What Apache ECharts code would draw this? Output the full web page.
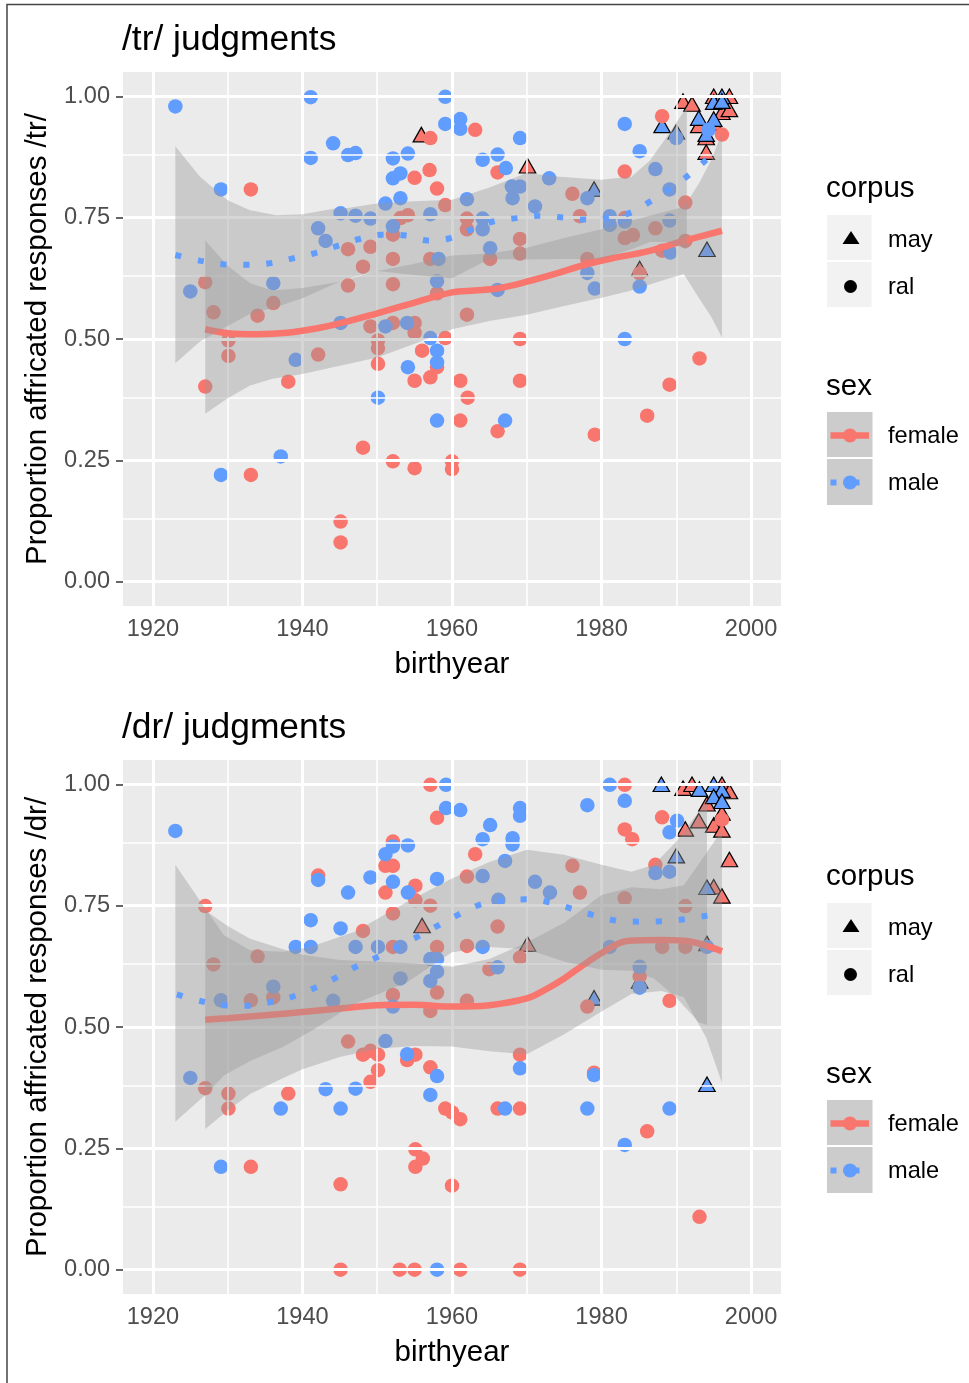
<!DOCTYPE html>
<html>
<head>
<meta charset="utf-8">
<script src="https://cdn.jsdelivr.net/npm/echarts@6/dist/echarts.min.js"></script>
<style>
html,body{margin:0;padding:0;background:#ffffff;}
#chart{width:969px;height:1383px;}
</style>
</head>
<body>
<div id="chart"></div>
<script>
// ---------- axis breaks ----------
const xTicks = [1920, 1940, 1960, 1980, 2000];
const xMinor = [1930, 1950, 1970, 1990];
const yTicks = [0, 0.25, 0.5, 0.75, 1];
const yMinor = [0.125, 0.375, 0.625, 0.875];

// ---------- /tr/ panel: points [birthyear, proportion] ----------
const trFemaleRal = [
 [1927.0,0.617],[1928.1,0.555],[1930.1,0.497],[1930.1,0.465],[1927.0,0.402],[1933.1,0.808],[1933.1,0.220],
 [1934.0,0.548],[1936.1,0.574],[1938.1,0.412],[1942.1,0.468],[1945.1,0.124],[1945.1,0.081],[1946.1,0.685],
 [1946.1,0.610],[1948.1,0.649],[1948.1,0.276],[1949.1,0.690],[1949.1,0.526],[1950.1,0.497],[1950.1,0.481],
 [1950.1,0.449],[1952.1,0.715],[1952.1,0.665],[1952.1,0.613],[1952.1,0.533],[1952.1,0.248],[1953.1,0.749],
 [1954.1,0.755],[1955.0,0.832],[1955.0,0.533],[1955.0,0.513],[1955.0,0.414],[1955.0,0.234],[1956.0,0.476],
 [1957.1,0.914],[1957.0,0.848],[1957.1,0.665],[1957.1,0.421],[1958.0,0.810],[1958.0,0.594],[1958.0,0.442],
 [1959.1,0.776],[1959.1,0.502],[1960.0,0.248],[1960.0,0.232],[1961.1,0.414],[1961.1,0.332],[1962.0,0.748],
 [1962.0,0.726],[1962.0,0.550],[1962.1,0.379],[1963.1,0.931],[1965.1,0.665],[1966.1,0.843],[1966.1,0.310],
 [1969.1,0.706],[1969.1,0.676],[1969.1,0.500],[1969.1,0.414],[1976.1,0.799],[1977.1,0.753],[1978.1,0.665],
 [1979.1,0.303],[1983.1,0.845],[1983.1,0.749],[1983.1,0.708],[1984.2,0.714],[1985.1,0.635],[1986.1,0.342],
 [1987.2,0.728],[1988.1,0.959],[1988.1,0.682],[1989.1,0.406],[1991.2,0.781],[1991.2,0.702],[1993.1,0.460],
 [1996.1,0.921]
];
const trMaleRal = [
 [1923.0,0.979],[1925.0,0.598],[1929.1,0.808],[1929.1,0.220],[1936.1,0.615],[1937.1,0.258],[1939.1,0.457],
 [1941.1,0.998],[1941.1,0.873],[1942.1,0.728],[1943.1,0.702],[1944.1,0.903],[1945.1,0.759],[1945.1,0.533],
 [1946.1,0.879],[1947.1,0.883],[1947.1,0.754],[1949.1,0.748],[1950.1,0.379],[1951.1,0.779],[1951.1,0.526],
 [1952.1,0.872],[1952.1,0.831],[1952.1,0.732],[1953.1,0.841],[1953.1,0.790],[1954.1,0.882],[1954.0,0.533],
 [1954.1,0.442],[1957.1,0.757],[1957.1,0.502],[1958.2,0.665],[1958.0,0.619],[1958.0,0.476],[1958.0,0.452],
 [1958.0,0.332],[1959.1,0.999],[1959.1,0.943],[1961.1,0.953],[1961.1,0.933],[1962.0,0.788],[1964.1,0.869],
 [1964.1,0.748],[1964.1,0.726],[1965.1,0.687],[1966.1,0.880],[1966.1,0.601],[1967.2,0.852],[1967.1,0.332],
 [1968.0,0.814],[1968.1,0.790],[1969.1,0.914],[1969.1,0.814],[1971.1,0.773],[1973.0,0.831],[1978.1,0.790],
 [1978.1,0.636],[1979.1,0.604],[1981.1,0.753],[1981.1,0.735],[1983.1,0.943],[1983.1,0.742],[1983.1,0.500],
 [1985.1,0.887],[1985.1,0.608],[1987.2,0.850],[1989.1,0.808],[1989.1,0.744],[1989.2,0.678],[1990.0,0.914],
 [1994.3,0.931]
];
const trFemaleMay = [
 [1955.9,0.921],[1970.1,0.857],[1985.1,0.645],[1990.9,0.990],[1992.1,0.984],[1993.0,0.940],[1994.0,0.915],
 [1994.0,0.885],[1995.0,1.000],[1997.1,1.000],[1996.1,0.967],[1997.1,0.973],[1995.0,0.945]
];
const trMaleMay = [
 [1979.0,0.809],[1988.1,0.940],[1990.0,0.927],[1993.0,0.955],[1994.0,0.922],[1994.1,0.685],[1995.0,0.953],
 [1996.1,1.000],[1995.0,0.988],[1996.1,0.990]
];
// smoother fits (loess) and 95% bands [year, lower, upper]
const trFemaleFit = [
 [1927,0.520],[1930,0.512],[1934,0.510],[1938,0.513],[1942,0.522],[1945,0.532],[1950,0.553],[1955,0.575],
 [1960,0.596],[1963,0.600],[1966,0.604],[1970,0.618],[1974,0.635],[1978,0.654],[1982,0.668],[1986,0.680],
 [1991,0.702],[1996.1,0.723]
];
const trMaleFit = [
 [1923,0.673],[1926.4,0.661],[1929.4,0.654],[1932.6,0.653],[1935.6,0.656],[1938.7,0.666],[1941.7,0.677],
 [1944.7,0.692],[1947.6,0.706],[1950.7,0.715],[1953.8,0.713],[1956.7,0.703],[1959.6,0.707],[1962.5,0.725],
 [1965.5,0.742],[1968.6,0.749],[1971.7,0.754],[1974.9,0.750],[1977.8,0.746],[1981,0.750],[1984,0.761],
 [1986.7,0.785],[1989,0.808],[1991.7,0.838],[1994,0.869],[1995.5,0.890]
];
const trFemaleBand = [
 [1927,0.346,0.703],[1930,0.378,0.651],[1933,0.404,0.615],[1936,0.418,0.600],[1940,0.428,0.605],
 [1945,0.445,0.618],[1950,0.462,0.640],[1955,0.490,0.655],[1960,0.520,0.672],[1965,0.537,0.676],
 [1970,0.550,0.688],[1975,0.568,0.708],[1980,0.585,0.726],[1984,0.600,0.744],[1988,0.620,0.760],
 [1991,0.634,0.772],[1993,0.585,0.820],[1994.7,0.545,0.870],[1996.1,0.503,0.925]
];
const trMaleBand = [
 [1923,0.450,0.897],[1926.3,0.495,0.834],[1930,0.527,0.786],[1933,0.552,0.765],[1936.5,0.566,0.755],
 [1940,0.584,0.757],[1944,0.612,0.768],[1946,0.624,0.770],[1950,0.640,0.779],[1955,0.632,0.784],
 [1960,0.625,0.787],[1965,0.665,0.812],[1970,0.664,0.842],[1974.4,0.665,0.834],[1980,0.665,0.828],
 [1984,0.685,0.834],[1986.5,0.700,0.868],[1988.7,0.700,0.916],[1991.4,0.685,0.978]
];

// ---------- /dr/ panel ----------
const drFemaleRal = [
 [1927.0,0.749],[1928.1,0.629],[1930.1,0.363],[1930.1,0.332],[1927.0,0.374],[1933.1,0.555],[1933.1,0.212],
 [1934.0,0.645],[1936.1,0.561],[1938.1,0.363],[1942.1,0.812],[1945.1,0.176],[1945.1,0.000],[1946.1,0.470],
 [1948.1,0.698],[1948.1,0.443],[1949.1,0.451],[1949.1,0.387],[1950.1,0.443],[1950.1,0.411],[1951.1,0.832],
 [1951.1,0.777],[1952.1,0.882],[1952.1,0.832],[1952.1,0.734],[1952.1,0.665],[1952.1,0.566],[1953.0,0.000],
 [1954.0,0.432],[1955.1,0.791],[1955.1,0.761],[1955.1,0.443],[1955.1,0.248],[1955.1,0.212],[1955.0,0.000],
 [1956.1,0.229],[1957.1,0.999],[1957.1,0.750],[1957.1,0.533],[1957.1,0.417],[1958.0,0.931],[1958.0,0.665],
 [1958.0,0.571],[1959.1,0.332],[1960.0,0.324],[1960.0,0.173],[1961.1,0.310],[1961.1,0.000],[1962.0,0.810],
 [1962.0,0.667],[1962.0,0.554],[1963.1,0.856],[1965.0,0.619],[1966.1,0.707],[1966.1,0.332],[1969.1,0.643],
 [1969.1,0.443],[1969.1,0.332],[1969.1,0.000],[1976.1,0.832],[1977.1,0.777],[1978.1,0.542],[1979.0,0.406],
 [1983.1,0.999],[1983.1,0.907],[1983.1,0.765],[1984.1,0.887],[1985.1,0.604],[1986.1,0.285],[1987.2,0.834],
 [1988.1,0.932],[1988.1,0.665],[1989.1,0.554],[1991.2,0.749],[1991.2,0.665],[1993.1,0.109],[1996.1,0.927]
];
const drMaleRal = [
 [1923.0,0.904],[1925.0,0.395],[1929.1,0.555],[1929.1,0.212],[1936.1,0.583],[1937.1,0.332],[1939.1,0.665],
 [1941.1,0.720],[1941.1,0.665],[1942.1,0.803],[1943.1,0.372],[1944.1,0.554],[1945.1,0.703],[1945.1,0.332],
 [1946.1,0.777],[1947.1,0.665],[1947.1,0.373],[1949.1,0.808],[1950.1,0.665],[1951.1,0.856],[1951.1,0.471],
 [1952.1,0.872],[1952.1,0.799],[1952.1,0.542],[1953.1,0.665],[1953.1,0.600],[1954.1,0.874],[1954.1,0.777],
 [1954.0,0.444],[1957.1,0.640],[1957.1,0.595],[1957.1,0.360],[1958.0,0.805],[1958.0,0.640],[1958.0,0.614],
 [1958.0,0.399],[1958.0,0.000],[1959.2,0.999],[1959.2,0.951],[1961.1,0.947],[1964.1,0.887],[1964.1,0.811],
 [1964.1,0.665],[1965.1,0.916],[1966.2,0.762],[1966.1,0.623],[1967.1,0.842],[1967.1,0.332],[1968.1,0.889],
 [1968.1,0.876],[1969.1,0.951],[1969.1,0.935],[1969.1,0.415],[1971.1,0.799],[1973.1,0.777],[1978.1,0.957],
 [1978.1,0.332],[1979.0,0.401],[1981.1,0.999],[1981.1,0.665],[1983.1,0.966],[1983.1,0.257],[1985.1,0.624],
 [1985.1,0.581],[1987.2,0.817],[1989.1,0.901],[1989.1,0.820],[1989.1,0.332],[1990.1,0.925],[1994.1,0.665]
];
const drFemaleMay = [
 [1956.0,0.709],[1970.1,0.671],[1985.1,0.595],[1990.9,0.992],[1992.1,1.000],[1994.1,0.960],[1993.0,0.925],
 [1991.2,0.908],[1995.0,0.916],[1996.1,0.941],[1996.1,0.906],[1996.1,1.000],[1997.1,0.985],[1997.1,0.845],
 [1994.1,0.672],[1995.0,0.789],[1996.1,0.770]
];
const drMaleMay = [
 [1979.0,0.560],[1988.0,1.000],[1990.0,0.853],[1993.1,0.990],[1995.0,1.000],[1996.1,0.988],[1995.0,0.975],
 [1996.1,0.965],[1994.1,0.788],[1994.1,0.382]
];
const drFemaleFit = [
 [1927,0.515],[1930,0.518],[1935,0.524],[1940,0.531],[1945,0.538],[1950,0.545],[1955,0.546],[1960,0.542],
 [1965,0.545],[1970,0.559],[1972.5,0.577],[1975,0.600],[1977.5,0.627],[1980,0.652],[1983.4,0.677],
 [1988.3,0.679],[1991.8,0.676],[1996.1,0.656]
];
const drMaleFit = [
 [1923.2,0.567],[1926.5,0.553],[1929.4,0.545],[1932.5,0.544],[1935.6,0.551],[1938.6,0.562],[1941.4,0.579],
 [1944.3,0.600],[1947,0.623],[1949.9,0.643],[1952.7,0.665],[1955.4,0.686],[1958,0.708],[1960.8,0.731],
 [1963.6,0.751],[1966.7,0.760],[1969.8,0.763],[1972.7,0.758],[1975.9,0.744],[1978.8,0.731],[1981.7,0.720],
 [1985,0.717],[1987.9,0.718],[1991.2,0.722],[1994,0.729],[1995.5,0.733]
];
const drFemaleBand = [
 [1927,0.290,0.740],[1930,0.328,0.708],[1933,0.362,0.682],[1937,0.392,0.662],[1940,0.413,0.649],
 [1945,0.438,0.638],[1950,0.455,0.635],[1955,0.461,0.631],[1960,0.460,0.624],[1965,0.450,0.640],
 [1970,0.444,0.674],[1975,0.485,0.715],[1980,0.532,0.772],[1984,0.568,0.788],[1988,0.574,0.784],
 [1991,0.562,0.792],[1994,0.478,0.858],[1996.1,0.385,0.905]
];
const drMaleBand = [
 [1923,0.305,0.834],[1927,0.360,0.744],[1929.5,0.400,0.689],[1933,0.430,0.658],[1937.5,0.460,0.655],
 [1941,0.490,0.665],[1947,0.548,0.696],[1954,0.592,0.758],[1960,0.654,0.806],[1965,0.665,0.840],
 [1970,0.660,0.865],[1975,0.635,0.855],[1980,0.618,0.834],[1984,0.616,0.820],[1987,0.600,0.834],
 [1990,0.560,0.882],[1993,0.510,0.944],[1994.1,0.504,0.964]
];

// ---------- styling ----------
const RED = '#F8766D', BLUE = '#619CFF';
const FONT = '"Liberation Sans", Arial, Helvetica, sans-serif';
const PANEL_TOP = [72, 760];

const chart = echarts.init(document.getElementById('chart'), null, {renderer: 'canvas'});

function gridLineSeries(gi) {
  const md = [];
  xTicks.forEach(v => md.push({xAxis: v, lineStyle: {width: 3}}));
  xMinor.forEach(v => md.push({xAxis: v, lineStyle: {width: 1.6}}));
  yTicks.forEach(v => md.push({yAxis: v, lineStyle: {width: 3}}));
  yMinor.forEach(v => md.push({yAxis: v, lineStyle: {width: 1.6}}));
  return {
    type: 'line', xAxisIndex: gi, yAxisIndex: gi, z: 1, silent: true,
    data: [], symbol: 'none',
    markLine: {silent: true, symbol: ['none', 'none'], label: {show: false}, animation: false,
      lineStyle: {color: '#ffffff', type: 'solid'}, emphasis: {disabled: true}, data: md}
  };
}
function scatter(gi, data, color, tri) {
  return {
    type: 'scatter', xAxisIndex: gi, yAxisIndex: gi, z: tri ? 2 : 3, data: data,
    symbol: tri ? 'triangle' : 'circle', symbolSize: tri ? [16.5, 14.5] : 14.5,
    itemStyle: tri ? {color: color, borderColor: '#000', borderWidth: 1.2, opacity: 1}
                   : {color: color, opacity: 1},
    emphasis: {disabled: true}, silent: true
  };
}
function ribbon(gi, band, z) {
  return {
    type: 'custom', xAxisIndex: gi, yAxisIndex: gi, z: z, silent: true, clip: true,
    data: [[band[0][0], band[0][1]]], encode: {x: 0, y: 1},
    renderItem: function (params, api) {
      if (params.dataIndex !== 0) return null;
      const up = band.map(d => api.coord([d[0], d[2]]));
      const lo = band.slice().reverse().map(d => api.coord([d[0], d[1]]));
      return {type: 'polygon', shape: {points: up.concat(lo)},
        style: {fill: 'rgba(153,153,153,0.4)', stroke: null}};
    }
  };
}
function fitLine(gi, data, color, dotted, z) {
  return {
    type: 'line', xAxisIndex: gi, yAxisIndex: gi, z: z, data: data, smooth: 0.35,
    symbol: 'none', silent: true,
    lineStyle: {color: color, width: dotted ? 6 : 6.5, type: dotted ? [6, 17] : 'solid', cap: 'butt'}
  };
}

function panel(gi, fRal, mRal, fMay, mMay, fFit, mFit, fBand, mBand) {
  return [
    gridLineSeries(gi),
    scatter(gi, fMay, RED, true), scatter(gi, mMay, BLUE, true),
    scatter(gi, fRal, RED, false), scatter(gi, mRal, BLUE, false),
    ribbon(gi, fBand, 5), fitLine(gi, fFit, RED, false, 6),
    ribbon(gi, mBand, 7), fitLine(gi, mFit, BLUE, true, 8)
  ];
}

function xAxis(gi) {
  return {
    type: 'value', gridIndex: gi, min: 1916, max: 2004,
    axisLine: {show: false}, splitLine: {show: false},
    axisTick: {show: true, customValues: xTicks, length: 7, lineStyle: {color: '#333333', width: 1.5}},
    axisLabel: {customValues: xTicks, formatter: v => String(v), fontSize: 23.6, color: '#4D4D4D',
      fontFamily: FONT, margin: 11},
    name: 'birthyear', nameLocation: 'middle', nameGap: 44, nameMoveOverlap: false,
    nameTextStyle: {fontSize: 29.5, color: '#000', fontFamily: FONT}
  };
}
function yAxis(gi, title) {
  return {
    type: 'value', gridIndex: gi, min: -0.05, max: 1.05,
    axisLine: {show: false}, splitLine: {show: false},
    axisTick: {show: true, customValues: yTicks, length: 7, lineStyle: {color: '#333333', width: 1.5}},
    axisLabel: {customValues: yTicks, formatter: v => v.toFixed(2), fontSize: 23.6, color: '#4D4D4D',
      fontFamily: FONT, margin: 13},
    name: title, nameLocation: 'middle', nameGap: 70, nameRotate: 90, nameMoveOverlap: false,
    nameTextStyle: {fontSize: 29.5, color: '#000', fontFamily: FONT}
  };
}

function legend(dy) {
  const t = (x, y, s, size) => ({type: 'text', silent: true, z: 10,
    style: {text: s, x: x, y: y + dy, fill: '#000', font: size + 'px ' + FONT, align: 'left', verticalAlign: 'middle'}});
  const r = (x, y, w, h, fill) => ({type: 'rect', silent: true, z: 9, shape: {x: x, y: y + dy, width: w, height: h}, style: {fill: fill}});
  return [
    t(826, 189, 'corpus', 29.5),
    r(827, 215, 44.5, 45, '#F2F2F2'), r(827, 262, 44.5, 45, '#F2F2F2'),
    {type: 'polygon', silent: true, z: 10, shape: {points: [[851, 231 + dy], [859.5, 244 + dy], [842.5, 244 + dy]]}, style: {fill: '#000'}},
    {type: 'circle', silent: true, z: 10, shape: {cx: 850.5, cy: 286.5 + dy, r: 6.5}, style: {fill: '#000'}},
    t(888, 240, 'may', 23.6), t(888, 287, 'ral', 23.6),
    t(826, 387, 'sex', 29.5),
    r(827, 412, 45.5, 45, '#CCCCCC'), r(827, 459, 45.5, 46, '#CCCCCC'),
    {type: 'line', silent: true, z: 10, shape: {x1: 830.5, y1: 435.5 + dy, x2: 869, y2: 435.5 + dy}, style: {stroke: RED, lineWidth: 6.5}},
    {type: 'circle', silent: true, z: 11, shape: {cx: 850, cy: 435.5 + dy, r: 7}, style: {fill: RED}},
    {type: 'line', silent: true, z: 10, shape: {x1: 830.5, y1: 482.5 + dy, x2: 869, y2: 482.5 + dy}, style: {stroke: BLUE, lineWidth: 6, lineDash: [6, 17], lineCap: 'butt'}},
    {type: 'circle', silent: true, z: 11, shape: {cx: 850, cy: 482.5 + dy, r: 7}, style: {fill: BLUE}},
    t(888, 436, 'female', 23.6), t(888, 483, 'male', 23.6)
  ];
}

const option = {
  animation: false,
  backgroundColor: '#ffffff',
  textStyle: {fontFamily: FONT},
  grid: [
    {left: 123, top: PANEL_TOP[0], width: 658, height: 534, show: true, backgroundColor: '#EBEBEB', borderWidth: 0, containLabel: false, outerBoundsMode: 'none'},
    {left: 123, top: PANEL_TOP[1], width: 658, height: 534, show: true, backgroundColor: '#EBEBEB', borderWidth: 0, containLabel: false, outerBoundsMode: 'none'}
  ],
  xAxis: [xAxis(0), xAxis(1)],
  yAxis: [yAxis(0, 'Proportion affricated responses /tr/'), yAxis(1, 'Proportion affricated responses /dr/')],
  series: [].concat(
    panel(0, trFemaleRal, trMaleRal, trFemaleMay, trMaleMay, trFemaleFit, trMaleFit, trFemaleBand, trMaleBand),
    panel(1, drFemaleRal, drMaleRal, drFemaleMay, drMaleMay, drFemaleFit, drMaleFit, drFemaleBand, drMaleBand)
  ),
  graphic: [].concat(
    [{type: 'polyline', silent: true, shape: {points: [[7, 1383], [7, 4.5], [969, 4.5]]}, style: {stroke: '#444', lineWidth: 1.5, fill: null}}],
    [{type: 'text', silent: true, style: {text: '/tr/ judgments', x: 122, y: 40, fill: '#000', font: '35.4px ' + FONT, verticalAlign: 'middle'}}],
    [{type: 'text', silent: true, style: {text: '/dr/ judgments', x: 122, y: 728, fill: '#000', font: '35.4px ' + FONT, verticalAlign: 'middle'}}],
    legend(0), legend(688)
  )
};
chart.setOption(option);
</script>
</body>
</html>
